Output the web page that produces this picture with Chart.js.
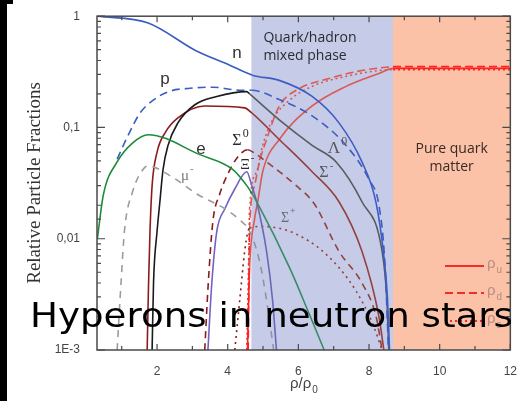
<!DOCTYPE html>
<html>
<head>
<meta charset="utf-8">
<script src="https://cdn.jsdelivr.net/npm/chart.js@4.4.1/dist/chart.umd.min.js"></script>
<style>
  html, body { margin: 0; padding: 0; background: #fff; }
  #wrap { position: relative; width: 523px; height: 401px; }
</style>
</head>
<body>
<div id="wrap"><canvas id="chart" width="523" height="401"></canvas></div>
<script>
// ── Datos ────────────────────────────────────────────────────────────────
const MIX_START = 4.67;   // quark/hadron mixed phase
const MIX_END   = 8.68;   // pure quark matter
const X_MIN = 0.3, X_MAX = 12;

const N_X = [0.31, 1.75, 3.1, 4.0, 4.7, 5.46, 6.39, 7.15, 7.8, 8.2, 8.42, 8.52, 8.58];
const N_Y = [1, 0.87, 0.49, 0.37, 0.295, 0.265, 0.19, 0.11, 0.049, 0.021, 0.007, 0.003, 0.001];

const P_X = [0.87, 1.18, 1.52, 1.89, 2.37, 2.93, 3.58, 4.34, 4.68, 5.46, 6.39, 7.35, 8.0, 8.28, 8.45, 8.55];
const P_Y = [0.052, 0.085, 0.135, 0.176, 0.212, 0.225, 0.23, 0.216, 0.216, 0.178, 0.127, 0.069, 0.034, 0.02, 0.006, 0.001];

const E_X = [0.31, 0.48, 0.87, 1.32, 1.75, 3.21, 4.14, 4.54, 4.7, 4.82, 5.75, 6.31, 6.73];
const E_Y = [0.01, 0.0248, 0.049, 0.073, 0.086, 0.057, 0.042, 0.03, 0.025, 0.0215, 0.0055, 0.0021, 0.001];

const MU_X = [0.87, 0.98, 1.08, 1.3, 1.66, 1.75, 2.42, 3.15, 3.92, 4.39, 4.6, 4.9, 5.1, 5.3];
const MU_Y = [0.001, 0.004, 0.012, 0.026, 0.044, 0.045, 0.036, 0.025, 0.0186, 0.0143, 0.012, 0.0063, 0.0028, 0.001];

const LAM_X = [1.86, 1.9, 2.0, 2.08, 2.17, 2.31, 2.59, 3.07, 3.69, 4.54, 4.62, 5.46, 6.39, 7.07, 7.8, 8.37, 8.5, 8.56];
const LAM_Y = [0.001, 0.004, 0.0116, 0.0215, 0.042, 0.069, 0.11, 0.16, 0.19, 0.21, 0.2, 0.117, 0.069, 0.049, 0.0215, 0.0077, 0.003, 0.001];

const SIGM_X = [1.72, 1.76, 1.8, 1.86, 2.0, 2.23, 2.59, 3.35, 4.48, 4.68, 5.46, 6.39, 7.15, 7.8, 8.28, 8.42];
const SIGM_Y = [0.001, 0.004, 0.0116, 0.03, 0.06, 0.09, 0.122, 0.156, 0.15, 0.135, 0.078, 0.04, 0.0215, 0.0077, 0.002, 0.001];

const SIG0_X = [3.35, 3.45, 3.58, 3.77, 4.0, 4.28, 4.56, 4.82, 5.1, 5.94, 6.45, 7.15, 7.8, 8.2, 8.37];
const SIG0_Y = [0.001, 0.004, 0.0143, 0.025, 0.038, 0.054, 0.063, 0.057, 0.049, 0.03, 0.0206, 0.0077, 0.004, 0.002, 0.001];

const XI_X = [3.44, 3.55, 3.69, 3.92, 4.2, 4.54, 4.68, 4.82, 5.1, 5.27, 5.38];
const XI_Y = [0.001, 0.004, 0.0116, 0.0186, 0.028, 0.04, 0.03, 0.0215, 0.0077, 0.0028, 0.001];

const SIGP_X = [4.2, 4.34, 4.48, 4.56, 4.62, 4.99, 5.46, 5.94, 6.59, 7.15, 7.63, 8.08, 8.37];
const SIGP_Y = [0.001, 0.0028, 0.0077, 0.0112, 0.0124, 0.0129, 0.0124, 0.011, 0.0082, 0.0055, 0.0034, 0.0018, 0.001];

const RU_X = [4.56, 4.62, 4.76, 4.85, 4.99, 5.46, 6.39, 7.35, 8.28, 8.68, 12];
const RU_Y = [0.001, 0.0055, 0.015, 0.0215, 0.04, 0.078, 0.156, 0.234, 0.306, 0.34, 0.34];

const RD_X = [4.58, 4.62, 4.76, 4.9, 5.1, 5.46, 5.94, 6.87, 7.8, 8.56, 8.68, 12];
const RD_Y = [0.001, 0.012, 0.03, 0.049, 0.078, 0.156, 0.216, 0.276, 0.325, 0.35, 0.352, 0.352];

const RS_X = [4.54, 4.6, 4.62, 4.82, 4.99, 5.27, 5.75, 6.39, 7.35, 8.28, 8.68, 12];
const RS_Y = [0.001, 0.008, 0.0186, 0.04, 0.069, 0.117, 0.176, 0.234, 0.288, 0.325, 0.33, 0.33];

const Y_LABELS = { "0": "1", "-1": "0,1", "-2": "0,01", "-3": "1E-3" };

// ── Helpers ──────────────────────────────────────────────────────────────
const pts = (xs, ys) => xs.map((x, i) => ({ x, y: ys[i] }));

// color distinto dentro de la fase mixta
const seg = (base, mix) => ({
  borderColor: (c) => {
    const m = (c.p0.parsed.x + c.p1.parsed.x) / 2;
    return m > MIX_START && m < MIX_END ? mix : base;
  },
});

const serie = (label, xs, ys, base, mix, dash) => ({
  label,
  data: pts(xs, ys),
  borderColor: base,
  borderWidth: 1.6,
  borderDash: dash || [],
  pointRadius: 0,
  fill: false,
  cubicInterpolationMode: "monotone",
  segment: seg(base, mix),
});

const isDecade = (v) => Math.abs(Math.log10(v) - Math.round(Math.log10(v))) < 1e-6;

const drawSup = (ctx, base, sup, x, y, font, supFont, color) => {
  ctx.fillStyle = color;
  ctx.font = font;
  ctx.textAlign = "left";
  ctx.textBaseline = "middle";
  const w = ctx.measureText(base).width;
  ctx.fillText(base, x - w / 2, y);
  ctx.font = supFont;
  ctx.fillText(sup, x + w / 2 + 1, y - 7);
};

const drawSub = (ctx, base, sub, x, y, font, subFont, color) => {
  ctx.fillStyle = color;
  ctx.font = font;
  ctx.textAlign = "left";
  ctx.textBaseline = "middle";
  const w = ctx.measureText(base).width;
  ctx.fillText(base, x, y);
  ctx.font = subFont;
  ctx.fillText(sub, x + w + 1, y + 6);
};

// ── Plugin de decoracion ─────────────────────────────────────────────────
const decor = {
  id: "decor",
  beforeDatasetsDraw(chart) {
    const { ctx, chartArea: a, scales: { x } } = chart;
    const x1 = x.getPixelForValue(MIX_START);
    const x2 = x.getPixelForValue(MIX_END);
    ctx.save();
    ctx.fillStyle = "#c6cbe8";
    ctx.fillRect(x1, a.top, x2 - x1, a.bottom - a.top);
    ctx.fillStyle = "#fbc2a7";
    ctx.fillRect(x2, a.top, a.right - x2, a.bottom - a.top);

    ctx.fillStyle = "#2b2b33";
    ctx.font = "14px 'Open Sans'";
    ctx.textAlign = "left";
    ctx.textBaseline = "middle";
    ctx.fillText("Quark/hadron", x1 + 12, 38);
    ctx.fillText("mixed phase", x1 + 12, 56);
    ctx.fillStyle = "#3a2a26";
    ctx.textAlign = "center";
    const xc = (x2 + a.right) / 2;
    ctx.fillText("Pure quark", xc, 149);
    ctx.fillText("matter", xc, 167);
    ctx.restore();
  },
  afterDatasetsDraw(chart) {
    const { ctx, chartArea: a, scales: { x, y } } = chart;
    ctx.save();

    // marco
    ctx.strokeStyle = "#4a4a4a";
    ctx.lineWidth = 1.5;
    ctx.strokeRect(a.left, a.top, a.right - a.left, a.bottom - a.top);

    // marcas hacia dentro
    ctx.lineWidth = 1.2;
    ctx.beginPath();
    y.ticks.forEach((t) => {
      const py = y.getPixelForValue(t.value);
      const len = isDecade(t.value) ? 8 : 4;
      ctx.moveTo(a.left, py); ctx.lineTo(a.left + len, py);
      ctx.moveTo(a.right, py); ctx.lineTo(a.right - len, py);
    });
    x.ticks.forEach((t) => {
      if (!Number.isInteger(t.value)) return;
      const px = x.getPixelForValue(t.value);
      const len = t.value % 2 === 0 ? 6 : 4;
      ctx.moveTo(px, a.bottom); ctx.lineTo(px, a.bottom - len);
      ctx.moveTo(px, a.top); ctx.lineTo(px, a.top + len);
    });
    ctx.stroke();

    // etiquetas de curvas
    ctx.fillStyle = "#333";
    ctx.font = "17px 'Liberation Sans'";
    ctx.textAlign = "center";
    ctx.textBaseline = "middle";
    ctx.fillText("n", 237, 53);
    ctx.fillText("p", 165, 79);
    ctx.fillText("e", 201, 149);
    drawSup(ctx, "\u03bc", "-", 185, 176, "15px 'Liberation Serif'", "11px 'Liberation Serif'", "#7a7a7a");
    drawSup(ctx, "\u03a3", "0", 237, 141, "16px 'Liberation Serif'", "12px 'Liberation Serif'", "#2a2a2a");
    drawSup(ctx, "\u039e", "-", 245, 165, "15px 'Liberation Serif'", "11px 'Liberation Serif'", "#2a2a2a");
    drawSup(ctx, "\u039b", "0", 334, 149, "17px 'Liberation Serif'", "12px 'Liberation Serif'", "#55575e");
    drawSup(ctx, "\u03a3", "-", 324, 173, "16px 'Liberation Serif'", "11px 'Liberation Serif'", "#55575e");
    drawSup(ctx, "\u03a3", "+", 285, 218, "14px 'Liberation Serif'", "10px 'Liberation Serif'", "#6a6a72");

    // leyenda quarks
    const leg = [
      { sub: "u", dash: [], py: 266 },
      { sub: "d", dash: [8, 4], py: 293 },
      { sub: "s", dash: [2, 3], py: 321 },
    ];
    leg.forEach((l) => {
      ctx.strokeStyle = "#f52a2a";
      ctx.lineWidth = 2;
      ctx.setLineDash(l.dash);
      ctx.beginPath();
      ctx.moveTo(445, l.py); ctx.lineTo(484, l.py);
      ctx.stroke();
      ctx.setLineDash([]);
      drawSub(ctx, "\u03c1", l.sub, 487, l.py - 2, "15px 'Liberation Sans'", "10px 'Liberation Sans'", "#b88c80");
    });

    // titulos de ejes
    ctx.fillStyle = "#333";
    ctx.save();
    ctx.translate(35, 183);
    ctx.rotate(-Math.PI / 2);
    ctx.font = "19px 'Liberation Serif'";
    ctx.textAlign = "center";
    ctx.textBaseline = "middle";
    ctx.fillText("Relative Particle Fractions", 0, 0);
    ctx.restore();
    drawSub(ctx, "\u03c1/\u03c1", "0", 290, 384, "15px 'Liberation Sans'", "10px 'Liberation Sans'", "#444");

    // texto superpuesto, estirado al ancho del original
    const title = "Hyperons in neutron stars";
    ctx.fillStyle = "#000";
    ctx.font = "33px 'DejaVu Sans'";
    ctx.textAlign = "left";
    ctx.textBaseline = "alphabetic";
    const tw = ctx.measureText(title).width;
    ctx.save();
    ctx.translate(30, 327);
    ctx.scale(483 / tw, 1);
    ctx.fillText(title, 0, 0);
    ctx.restore();

    // franja negra izquierda
    ctx.fillRect(0, 0, 7, 401);
    ctx.fillRect(0, 0, 13, 4);
    ctx.restore();
  },
};

// ── Grafica ──────────────────────────────────────────────────────────────
const BLUE = "#3b5cc0", BLUE_M = "#3d5cc4";
const DRED = "#8b1c1c", DRED_M = "#93423f";
const RED = "#ff2222", RED_M = "#d95a55";

new Chart(document.getElementById("chart"), {
  type: "line",
  data: {
    datasets: [
      serie("n", N_X, N_Y, BLUE, BLUE_M),
      serie("p", P_X, P_Y, BLUE, BLUE_M, [8, 5]),
      serie("e", E_X, E_Y, "#1e8a3c", "#3a8c68"),
      serie("mu", MU_X, MU_Y, "#9c9c9c", "#8e94a8", [7, 6]),
      serie("Lambda0", LAM_X, LAM_Y, "#1a1a1a", "#5a5b60"),
      serie("Sigma-", SIGM_X, SIGM_Y, DRED, DRED_M),
      serie("Sigma0", SIG0_X, SIG0_Y, DRED, DRED_M, [7, 5]),
      serie("Xi-", XI_X, XI_Y, "#7560c4", "#6a68b4"),
      serie("Sigma+", SIGP_X, SIGP_Y, DRED, DRED_M, [2, 4]),
      serie("rho_u", RU_X, RU_Y, RED, RED_M),
      serie("rho_d", RD_X, RD_Y, RED, RED_M, [8, 4]),
      serie("rho_s", RS_X, RS_Y, RED, RED_M, [2, 3]),
    ],
  },
  options: {
    responsive: false,
    animation: false,
    events: [],
    layout: { padding: { top: 12, right: 11, left: 0, bottom: 0 } },
    plugins: { legend: { display: false }, tooltip: { enabled: false } },
    scales: {
      x: {
        type: "linear",
        min: X_MIN,
        max: X_MAX,
        afterFit: (s) => { s.height = 51; },
        grid: { display: false },
        border: { display: false },
        ticks: {
          stepSize: 1,
          includeBounds: false,
          autoSkip: false,
          maxRotation: 0,
          padding: 6,
          color: "#444",
          font: { family: "'Liberation Sans'", size: 12 },
          callback: (v) => (Number.isInteger(v) && v % 2 === 0 ? v : ""),
        },
      },
      y: {
        type: "logarithmic",
        min: 0.001,
        max: 1,
        afterFit: (s) => { s.width = 97; },
        grid: { display: false },
        border: { display: false },
        ticks: {
          autoSkip: false,
          padding: 9,
          color: "#444",
          font: { family: "'Liberation Sans'", size: 12 },
          callback: (v) => (isDecade(v) ? Y_LABELS[String(Math.round(Math.log10(v)))] : ""),
        },
      },
    },
  },
  plugins: [decor],
});
</script>
</body>
</html>
